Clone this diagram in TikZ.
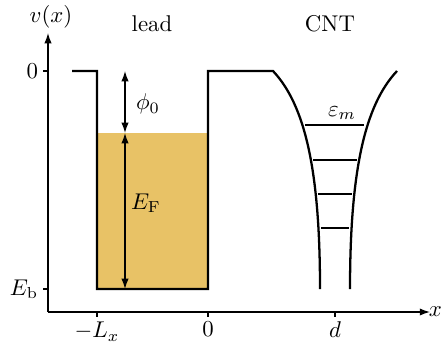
\documentclass[tikz,border=0pt]{standalone}
\usetikzlibrary{arrows.meta}
\definecolor{fermi}{HTML}{E8C266}
\begin{document}
\begin{tikzpicture}[x=0.4386pt,y=-0.4386pt,
  axis/.style={line width=0.6pt},
  tip/.style={-{Latex[length=4.5pt,width=3.2pt]}},
  dbl/.style={line width=0.6pt,{Latex[length=4.5pt,width=3.2pt]}-{Latex[length=4.5pt,width=3.2pt]}},
  potential/.style={line width=1pt},
  level/.style={line width=0.9pt},
  ticklbl/.style={inner sep=2pt}]
\useasboundingbox (0,0) rectangle (443,345);
% Fermi sea
\fill[fermi] (97,133) rectangle (208,289);
% axes
\coordinate (O) at (48,312);
\coordinate (ytop) at (48,33);
\coordinate (xend) at (430,312);
\draw[axis,tip] (O) -- (ytop);
\draw[axis,tip] (O) -- (xend);
\node[anchor=east,inner sep=0.3pt] (xl) at (443,312) {$x$};
\node (vl) at (51,17) {$v(x)$};
% y ticks
\draw[axis] (43,71) -- (48,71);
\draw[axis] (43,289) -- (48,289);
\node[anchor=east,ticklbl] (y0) at (43,71) {$0$};
\node[anchor=east,ticklbl] (yEb) at (43,289) {$E_{\mathrm{b}}$};
% x ticks
\draw[axis] (97,312) -- (97,317);
\draw[axis] (208,312) -- (208,317);
\draw[axis] (335,312) -- (335,317);
\node[anchor=north,ticklbl] (xL) at (97,317) {$-L_x$};
\node[anchor=north,ticklbl] (x0) at (208,317) {$0$};
\node[anchor=north,ticklbl] (xd) at (335,317) {$d$};
% potential
\draw[potential] (72,71) -- (97,71) -- (97,289) -- (208,289) -- (208,71) -- (273,71)
  .. controls (305,105) and (320,170) .. (320,289);
\draw[potential] (350,289) .. controls (350,170) and (365,105) .. (397,71);
% levels
\draw[level] (305,125) -- (364,125);
\draw[level] (313,160) -- (357,160);
\draw[level] (318,194) -- (352,194);
\draw[level] (321,228) -- (349,228);
\node (em) at (342,113) {$\varepsilon_m$};
% energy arrows
\coordinate (atop) at (125,71);
\coordinate (amid) at (125,133);
\coordinate (abot) at (125,289);
\draw[dbl] (atop) -- (amid);
\draw[dbl] (amid) -- (abot);
\node (phi) at (148,104) {$\phi_0$};
\node (EF) at (146,203) {$E_{\mathrm{F}}$};
% titles
\node (lead) at (152,24) {lead};
\node (cnt) at (330,24) {CNT};
\end{tikzpicture}
\end{document}
